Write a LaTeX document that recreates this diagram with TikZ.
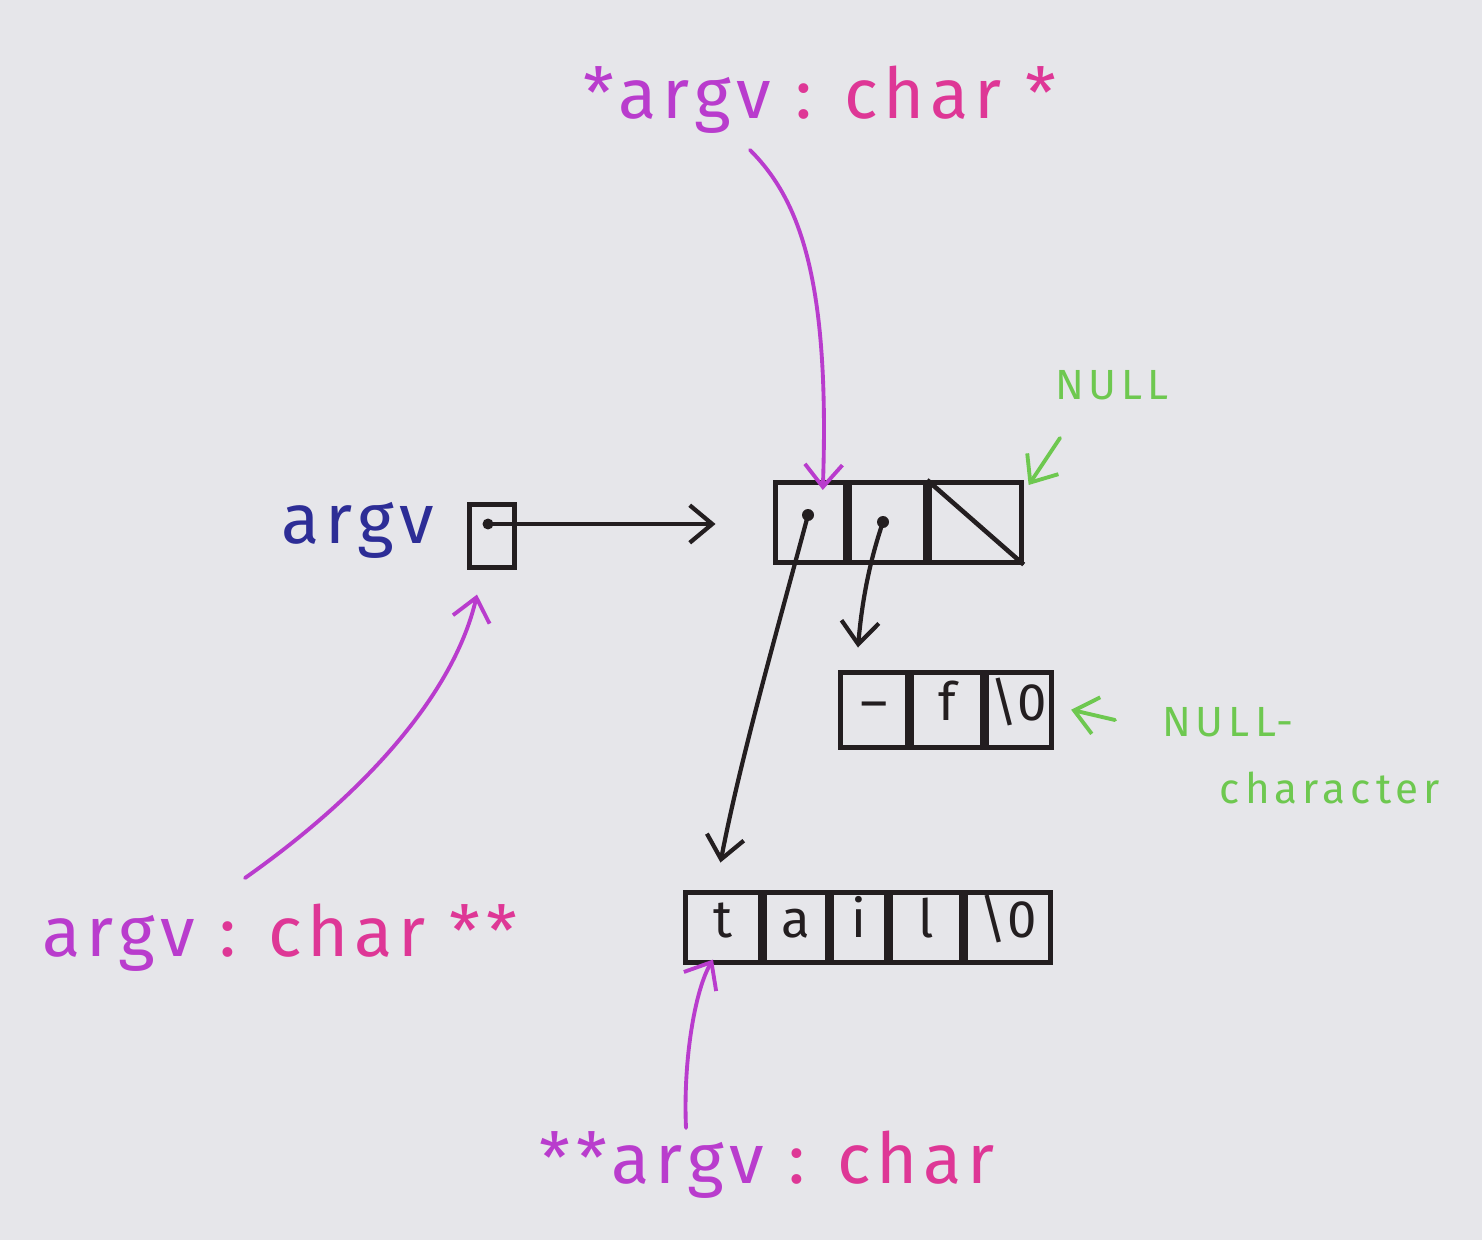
\documentclass[tikz,border=0pt]{standalone}
\usepackage{fontspec}
\setmainfont{Fira Sans}
\usetikzlibrary{arrows.meta}
\definecolor{bg}{RGB}{230,230,234}
\definecolor{ink}{RGB}{35,30,32}
\definecolor{purp}{RGB}{185,60,205}
\definecolor{pink}{RGB}{222,55,150}
\definecolor{grn}{RGB}{110,200,80}
\definecolor{blu}{RGB}{45,45,150}
\begin{document}
\begin{tikzpicture}[x=0.02cm,y=-0.02cm,
  cell/.style={draw=ink, line width=2.6pt, inner sep=0pt, text=ink,
    text height=19pt, text depth=7pt,
    font=\fontsize{30}{30}\selectfont},
  lbl/.style={inner sep=0pt, font=\fontsize{40}{40}\selectfont\addfontfeature{LetterSpace=8}},
  glbl/.style={inner sep=0pt, text=grn, font=\fontsize{24}{24}\selectfont\addfontfeature{LetterSpace=12}},
  inkarrow/.style={draw=ink, line width=2.4pt, line cap=round, -{Straight Barb[length=0.45cm,width=0.75cm,line width=2.4pt]}},
  colarrow/.style={line width=2.2pt, line cap=round, -{Straight Barb[length=0.45cm,width=0.75cm,line width=2.2pt]}},
  dotmark/.style={fill=ink}
]
\fill[bg] (0,0) rectangle (1482,1240);
\useasboundingbox (0,0) rectangle (1482,1240);

% labels
\node[lbl] (tl) at (820,100) {\textcolor{purp}{*argv} \textcolor{pink}{: char *}};
\node[lbl, text=blu] (av) at (358,530) {argv};
\node[lbl] (ml) at (280,938) {\textcolor{purp}{argv} \textcolor{pink}{: char **}};
\node[lbl] (bl) at (767,1165) {\textcolor{purp}{**argv} \textcolor{pink}{: char}};
\node[glbl] (nl) at (1112,385) {NULL};
\node[glbl] (nc1) at (1228,722) {NULL-};
\node[glbl] (nc2) at (1330,788) {character};

% free ends of the coloured connectors
\coordinate (s1) at (750,150);
\coordinate (s2) at (245,878);
\coordinate (s3) at (686,1128);
\coordinate (s4) at (1060,438);
\coordinate (s5) at (1115,720);

% argv box
\node[cell, minimum width=0.9cm, minimum height=1.26cm, anchor=north west] (box) at (467,502) {};
\coordinate (bd) at (488,524);
\fill[dotmark] (bd) circle (0.11cm);

% top pointer array
\node[cell, minimum width=1.4cm, minimum height=1.6cm, anchor=north west] (p0) at (773,480) {};
\node[cell, minimum width=1.5cm, minimum height=1.6cm, anchor=west] (p1) at (p0.east) {};
\node[cell, minimum width=1.84cm, minimum height=1.6cm, anchor=west] (p2) at (p1.east) {};
\draw[ink, line width=2.6pt] (p2.north west) -- (p2.south east);
\coordinate (d0) at (808,515);
\coordinate (d1) at (883,522);
\fill[dotmark] (d0) circle (0.12cm);
\fill[dotmark] (d1) circle (0.12cm);

% -f\0 array
\node[cell, minimum width=1.34cm, minimum height=1.5cm, anchor=north west] (f0) at (838,670) {–};
\node[cell, minimum width=1.4cm, minimum height=1.5cm, anchor=west] (f1) at (f0.east) {f};
\node[cell, minimum width=1.3cm, minimum height=1.5cm, anchor=west] (f2) at (f1.east) {\textbackslash0};

% tail array
\node[cell, minimum width=1.5cm, minimum height=1.4cm, anchor=north west] (t0) at (683,890) {t};
\node[cell, minimum width=1.24cm, minimum height=1.4cm, anchor=west] (t1) at (t0.east) {a};
\node[cell, minimum width=1.1cm, minimum height=1.4cm, anchor=west] (t2) at (t1.east) {i};
\node[cell, minimum width=1.4cm, minimum height=1.4cm, anchor=west] (t3) at (t2.east) {l};
\node[cell, minimum width=1.7cm, minimum height=1.4cm, anchor=west] (t4) at (t3.east) {\textbackslash0};

% ink arrows
\draw[inkarrow] (bd) -- ([xshift=-1.15cm]p0.west |- bd);
\draw[inkarrow] (d0) .. controls (780,620) and (740,760) .. ([xshift=0.75cm,yshift=0.55cm]t0.north west);
\draw[inkarrow] (d1) .. controls (870,560) and (862,600) .. ([xshift=0.4cm,yshift=0.45cm]f0.north west);

% coloured arrows
\draw[colarrow, purp] (s1) .. controls (800,200) and (830,280) .. ([xshift=0.25cm,yshift=-0.2cm]p0.north);
\draw[colarrow, purp] (s2) .. controls (370,790) and (455,690) .. ([xshift=0.2cm,yshift=-0.5cm]box.south west);
\draw[colarrow, purp] (s3) .. controls (683,1060) and (695,990) .. ([xshift=0.6cm,yshift=0.1cm]t0.south west);
\draw[colarrow, grn] (s4) -- ([xshift=0.1cm,yshift=-0.1cm]p2.north east);
\draw[colarrow, grn] (s5) -- ([xshift=0.35cm]f2.east);
\end{tikzpicture}
\end{document}
